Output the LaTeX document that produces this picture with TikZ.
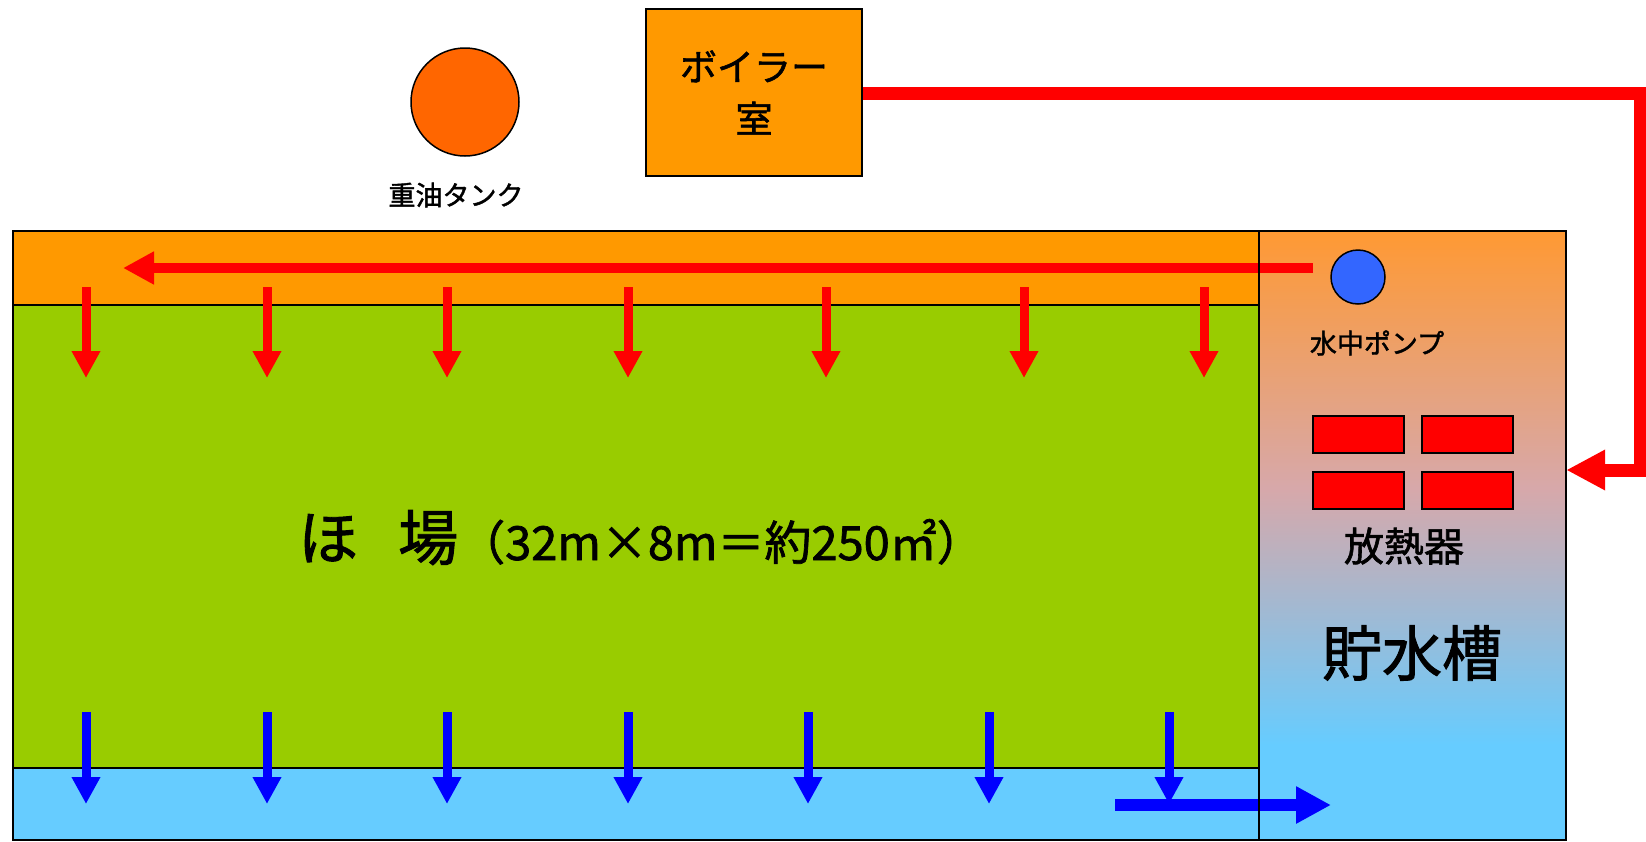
\documentclass[tikz,border=0pt]{standalone}
\usepackage{fontspec}
\setmainfont{Noto Sans CJK JP}[FakeBold=1.5]
\usetikzlibrary{arrows.meta}
\definecolor{bandorange}{HTML}{FF9900}
\definecolor{fieldgreen}{HTML}{99CC00}
\definecolor{waterblue}{HTML}{66CCFF}
\definecolor{tankorange}{HTML}{FF6600}
\definecolor{tanktop}{HTML}{FF9933}
\definecolor{tankmid}{RGB}{215,168,170}
\definecolor{pumpblue}{HTML}{3366FF}
\definecolor{hotred}{HTML}{FF0000}
\definecolor{coldblue}{HTML}{0000FF}
\begin{document}
\begin{tikzpicture}[x=1pt,y=-1pt,
  box/.style={draw=black,line width=1.5pt},
  hotdrop/.style={draw=hotred,line width=9pt,-{Triangle[length=27pt,width=27pt]}},
  colddrop/.style={draw=coldblue,line width=9pt,-{Triangle[length=27pt,width=27pt]}},
  lbl/.style={inner sep=0pt,text=black},
]
\useasboundingbox (0,0) rectangle (1646,841);
% field bands
\fill[bandorange] (13,231) rectangle (1259,305);
\fill[fieldgreen] (13,305) rectangle (1259,768);
\fill[waterblue] (13,768) rectangle (1259,840);
\draw[line width=1.5pt] (13,305) -- (1259,305);
\draw[line width=1.5pt] (13,768) -- (1259,768);
% storage tank gradient
\fill[waterblue] (1259,231) rectangle (1566,840);
\shade[top color=tanktop,bottom color=waterblue,middle color=tankmid] (1259,231) rectangle (1566,745);

% boiler and oil tank
\node[box,fill=bandorange,minimum width=216pt,minimum height=167pt,inner sep=0pt,align=center,
      font=\fontsize{37}{52}\selectfont] (boiler) at (754,92.5) {ボイラー\\室};
\node[circle,box,fill=tankorange,minimum size=108pt,inner sep=0pt] (oiltank) at (465,102) {};
\node[lbl,font=\fontsize{27}{27}\selectfont] (oillabel) at (456,195) {重油タンク};

% frame nodes (outline only)
\node[draw=none,minimum width=1246pt,minimum height=609pt,inner sep=0pt] (field) at (636,535.5) {};
\node[draw=none,minimum width=307pt,minimum height=609pt,inner sep=0pt] (storage) at (1412.5,535.5) {};

% distribution pipe and drops
\coordinate (pumpout) at (1313,268);
\coordinate (pipeend) at (123,268);
\draw[draw=hotred,line width=10pt,-{Triangle[length=31pt,width=31pt]}] (pumpout) -- (pipeend);
\foreach \i/\x in {1/86,2/267,3/447,4/628,5/826,6/1024,7/1204}{
  \coordinate (hs\i) at (\x,287);
  \coordinate (he\i) at (\x,378);
  \draw[hotdrop] (hs\i) -- (he\i);
}
\foreach \i/\x in {1/86,2/267,3/447,4/628,5/808,6/989,7/1169}{
  \coordinate (cs\i) at (\x,712);
  \coordinate (ce\i) at (\x,804);
  \draw[colddrop] (cs\i) -- (ce\i);
}
\coordinate (drainstart) at (1115,805);
\coordinate (drainend) at (1331,805);
\draw[draw=coldblue,line width=12pt,-{Triangle[length=35pt,width=35pt]}] (drainstart) -- (drainend);

% boiler hot pipe into storage
\coordinate (bendA) at (1640,93);
\coordinate (bendB) at (1640,470);
\draw[draw=hotred,line width=13pt,-{Triangle[length=39pt,width=38pt]}]
  (boiler.east |- bendA) -- (bendA) -- (bendB) -- (storage.east |- bendB);

% outlines
\draw[line width=1.5pt] (field.north west) rectangle (storage.south east);
\draw[line width=1.5pt] (field.north east) -- (field.south east);

% pump
\node[circle,box,fill=pumpblue,minimum size=54pt,inner sep=0pt] (pump) at (1358,277) {};
\node[lbl,font=\fontsize{27}{27}\selectfont] (pumplabel) at (1377,343) {水中ポンプ};

% radiators
\node[box,fill=hotred,minimum width=91pt,minimum height=37pt,inner sep=0pt] (rad1) at (1358.5,434.5) {};
\node[box,fill=hotred,minimum width=91pt,minimum height=37pt,inner sep=0pt] (rad2) at (1467.5,434.5) {};
\node[box,fill=hotred,minimum width=91pt,minimum height=37pt,inner sep=0pt] (rad3) at (1358.5,490.5) {};
\node[box,fill=hotred,minimum width=91pt,minimum height=37pt,inner sep=0pt] (rad4) at (1467.5,490.5) {};
\node[lbl,font=\fontsize{40}{40}\selectfont] (radlabel) at (1404,546) {放熱器};
\node[lbl,font=\fontsize{60}{60}\selectfont] (storlabel) at (1412,653) {貯水槽};

% field label
\node[lbl,anchor=base west] (fieldlabel) at (298,560)
  {\fontsize{60}{60}\selectfont ほ\hspace{40pt}場\fontsize{47}{47}\selectfont（32m×8m＝約250㎡）};
\end{tikzpicture}
\end{document}
